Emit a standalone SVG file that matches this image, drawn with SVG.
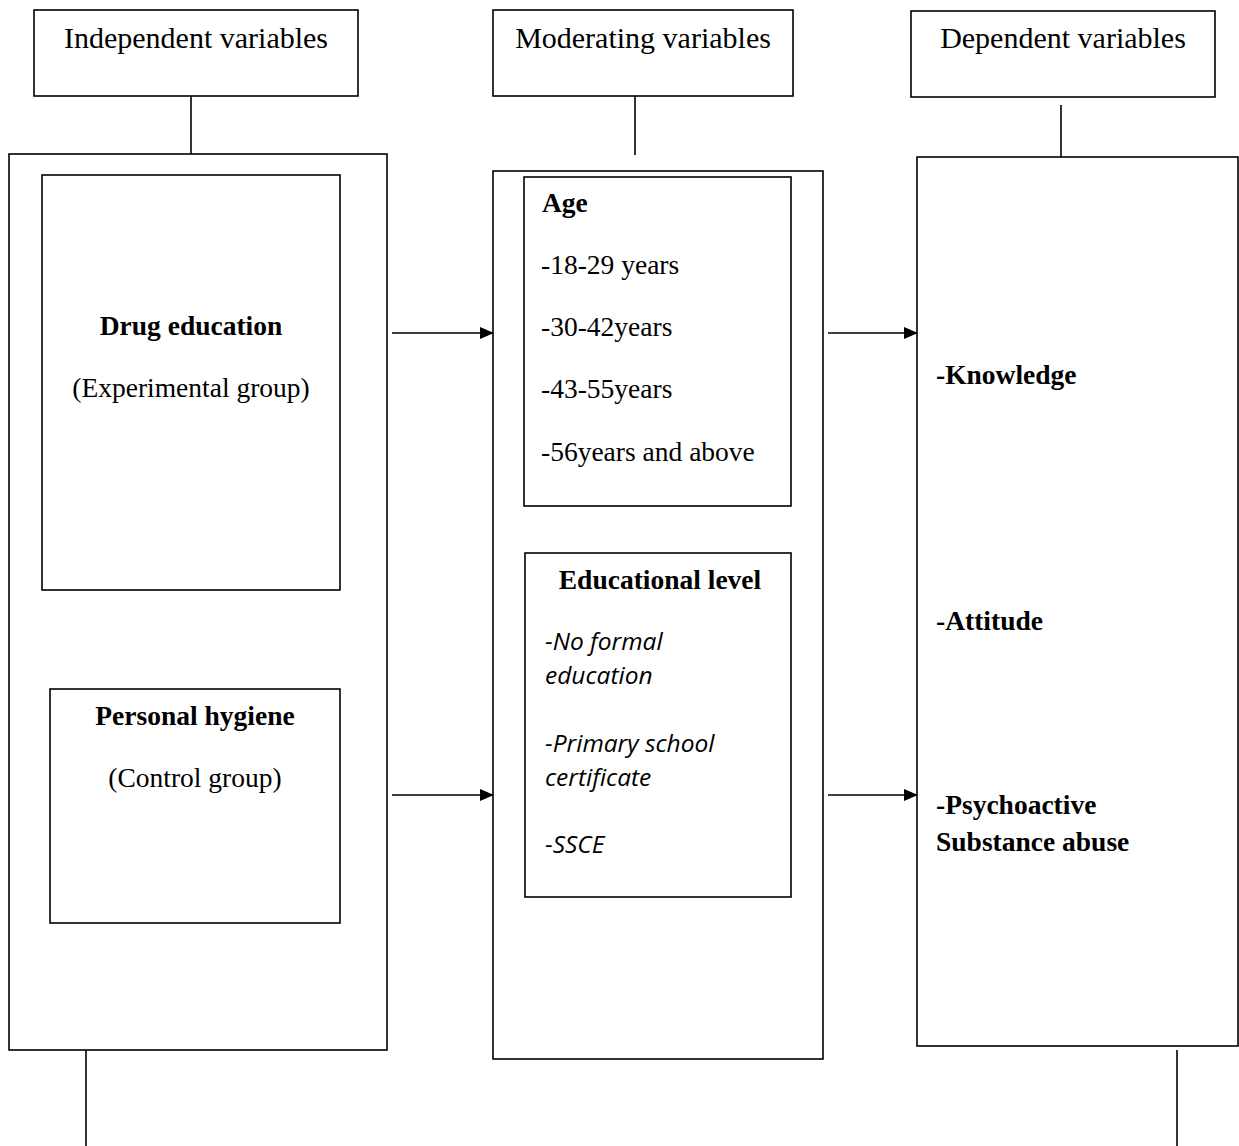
<svg xmlns="http://www.w3.org/2000/svg" width="1239" height="1146" viewBox="0 0 1239 1146">
<defs>
<marker id="arr" markerWidth="14" markerHeight="12" refX="14" refY="6" orient="auto" markerUnits="userSpaceOnUse" viewBox="0 0 14 12"><path d="M0,0 L14,6 L0,12 z" fill="#000"/></marker>
<style>
.box{fill:#fff;stroke:#000;stroke-width:1.6}
.ln{stroke:#000;stroke-width:1.6;fill:none}
.h{font-family:"Liberation Serif","Times New Roman",serif;font-size:30px;fill:#000}
.t{font-family:"Liberation Serif","Times New Roman",serif;font-size:27.5px;fill:#000}
.b{font-weight:bold}
.i{font-family:"Open Sans","Noto Sans",sans-serif;font-style:italic;font-size:24.5px;fill:#000}
.c{text-anchor:middle}
</style>
</defs>
<rect width="1239" height="1146" fill="#fff"/>
<g id="connectors">
<line class="ln" x1="191" y1="96" x2="191" y2="154"/>
<line class="ln" x1="635" y1="96" x2="635" y2="155"/>
<line class="ln" x1="1061" y1="105" x2="1061" y2="161"/>
<line class="ln" x1="392" y1="333" x2="494" y2="333" marker-end="url(#arr)"/>
<line class="ln" x1="392" y1="795" x2="494" y2="795" marker-end="url(#arr)"/>
<line class="ln" x1="828" y1="333" x2="918" y2="333" marker-end="url(#arr)"/>
<line class="ln" x1="828" y1="795" x2="918" y2="795" marker-end="url(#arr)"/>
<line class="ln" x1="86" y1="1050" x2="86" y2="1146"/>
<line class="ln" x1="1177" y1="1050" x2="1177" y2="1146"/>
</g>
<g id="hdr-independent">
<rect class="box" x="34" y="10" width="324" height="86"/>
<text class="h c" x="196" y="48">Independent variables</text>
</g>
<g id="hdr-moderating">
<rect class="box" x="493" y="10" width="300" height="86"/>
<text class="h c" x="643" y="48">Moderating variables</text>
</g>
<g id="hdr-dependent">
<rect class="box" x="911" y="11" width="304" height="86"/>
<text class="h c" x="1063" y="48">Dependent variables</text>
</g>
<g id="independent">
<rect class="box" x="9" y="154" width="378" height="896"/>
</g>
<g id="drug-education">
<rect class="box" x="42" y="175" width="298" height="415"/>
<text class="t b c" x="191" y="335">Drug education</text>
<text class="t c" x="191" y="397">(Experimental group)</text>
</g>
<g id="personal-hygiene">
<rect class="box" x="50" y="689" width="290" height="234"/>
<text class="t b c" x="195" y="725">Personal hygiene</text>
<text class="t c" x="195" y="787">(Control group)</text>
</g>
<g id="moderating">
<rect class="box" x="493" y="171" width="330" height="888"/>
</g>
<g id="age">
<rect class="box" x="524" y="177" width="267" height="329"/>
<text class="t b" x="542" y="212">Age</text>
<text class="t" x="541" y="274">-18-29 years</text>
<text class="t" x="541" y="336">-30-42years</text>
<text class="t" x="541" y="398">-43-55years</text>
<text class="t" x="541" y="461">-56years and above</text>
</g>
<g id="educational-level">
<rect class="box" x="525" y="553" width="266" height="344"/>
<text class="t b c" x="660" y="589">Educational level</text>
<text class="i" x="545" y="650">-No formal</text>
<text class="i" x="545" y="684">education</text>
<text class="i" x="545" y="752">-Primary school</text>
<text class="i" x="545" y="786">certificate</text>
<text class="i" x="545" y="853">-SSCE</text>
</g>
<g id="dependent">
<rect class="box" x="917" y="157" width="321" height="889"/>
<text class="t b" x="936" y="384">-Knowledge</text>
<text class="t b" x="936" y="630">-Attitude</text>
<text class="t b" x="936" y="814">-Psychoactive</text>
<text class="t b" x="936" y="851">Substance abuse</text>
</g>
</svg>
